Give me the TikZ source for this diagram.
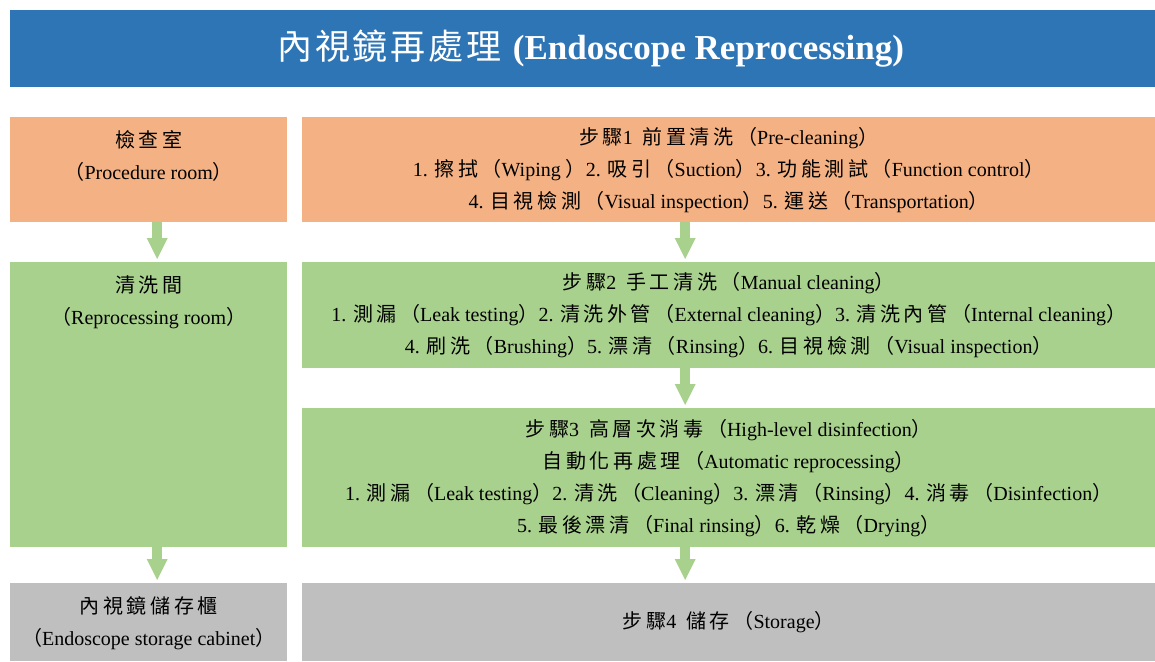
\documentclass[tikz,border=0pt]{standalone}
\usepackage{fontspec}
\setmainfont{Liberation Serif}
\newfontfamily\cjk[LetterSpace=18]{Noto Sans CJK TC}
\newfontfamily\cjktitle[LetterSpace=8]{Noto Sans CJK TC}
\usetikzlibrary{positioning}
\usetikzlibrary{arrows.meta}
\definecolor{titleblue}{RGB}{46,117,182}
\definecolor{boxorange}{RGB}{244,177,131}
\definecolor{boxgreen}{RGB}{169,209,142}
\definecolor{boxgray}{RGB}{191,191,191}
\newcommand{\zh}[1]{{\cjk #1}}
\tikzset{
  box/.style={anchor=north west, inner sep=0pt, align=center, font=\fontsize{20}{32}\selectfont},
  orangebox/.style={box, fill=boxorange},
  greenbox/.style={box, fill=boxgreen},
  graybox/.style={box, fill=boxgray},
  lefttext/.style={inner sep=0pt, align=center, font=\fontsize{20}{32}\selectfont},
  flow/.style={draw=boxgreen, line width=10pt, -{Triangle[width=21pt,length=21pt,line width=0pt,fill=boxgreen]}},
}

\begin{document}
\begin{tikzpicture}[x=1pt, y=-1pt]
        \useasboundingbox (0,0) rectangle (1155,661);
        % title
        \node[box, fill=titleblue, text=white, minimum width=1145pt, minimum height=77pt,
              font=\fontsize{35}{40}\selectfont] (title) at (10,10)
              {\hspace{16pt}{\cjktitle 內視鏡再處理}\ \textbf{(Endoscope Reprocessing)}};
        % row 1
        \node[orangebox, minimum width=277pt, minimum height=105pt] (proc) at (10,117) {};
        \node[lefttext, below=13pt of proc.north] (proctxt) {\zh{檢查室}\\\zh{（}Procedure room\zh{）}};
        \node[orangebox, minimum width=853pt, minimum height=105pt] (pre) at (302,117)
              {\zh{步驟}1\enspace\zh{前置清洗（}Pre-cleaning\zh{）}\\
               1. \zh{擦拭（}Wiping \zh{）}2. \zh{吸引（}Suction\zh{）}3. \zh{功能測試（}Function control\zh{）}\\
               4. \zh{目視檢測（}Visual inspection\zh{）}5. \zh{運送（}Transportation\zh{）}};
        % row 2
        \node[greenbox, minimum width=277pt, minimum height=285pt] (wash) at (10,262) {};
        \node[lefttext, below=13pt of wash.north] (washtxt) {\zh{清洗間}\\\zh{（}Reprocessing room\zh{）}};
        \node[greenbox, minimum width=853pt, minimum height=106pt] (manual) at (302,262)
              {\zh{步驟}2\enspace\zh{手工清洗（}Manual cleaning\zh{）}\\
               1. \zh{測漏（}Leak testing\zh{）}2. \zh{清洗外管（}External cleaning\zh{）}3. \zh{清洗內管（}Internal cleaning\zh{）}\\
               4. \zh{刷洗（}Brushing\zh{）}5. \zh{漂清（}Rinsing\zh{）}6. \zh{目視檢測（}Visual inspection\zh{）}};
        % row 3
        \node[greenbox, minimum width=853pt, minimum height=139pt] (hld) at (302,408)
              {\zh{步驟}3\enspace\zh{高層次消毒（}High-level disinfection\zh{）}\\
               \zh{自動化再處理（}Automatic reprocessing\zh{）}\\
               1. \zh{測漏（}Leak testing\zh{）}2. \zh{清洗（}Cleaning\zh{）}3. \zh{漂清（}Rinsing\zh{）}4. \zh{消毒（}Disinfection\zh{）}\\
               5. \zh{最後漂清（}Final rinsing\zh{）}6. \zh{乾燥（}Drying\zh{）}};
        % row 4
        \node[graybox, minimum width=277pt, minimum height=78pt] (cab) at (10,583) {};
        \node[lefttext, below=13pt of cab.north] (cabtxt) {\zh{內視鏡儲存櫃}\\\zh{（}Endoscope storage cabinet\zh{）}};
        \node[graybox, minimum width=853pt, minimum height=78pt] (store) at (302,583)
              {\zh{步驟}4\enspace\zh{儲存（}Storage\zh{）}};
        % arrows
        \draw[flow] ([xshift=8.5pt]proc.south) -- ([xshift=8.5pt,yshift=3pt]wash.north);
        \draw[flow] ([xshift=8.5pt]wash.south) -- ([xshift=8.5pt,yshift=3pt]cab.north);
        \draw[flow] ([xshift=-43.5pt]pre.south) -- ([xshift=-43.5pt,yshift=3pt]manual.north);
        \draw[flow] ([xshift=-43.5pt]manual.south) -- ([xshift=-43.5pt,yshift=3pt]hld.north);
        \draw[flow] ([xshift=-43.5pt]hld.south) -- ([xshift=-43.5pt,yshift=3pt]store.north);
    \end{tikzpicture}
\end{document}
